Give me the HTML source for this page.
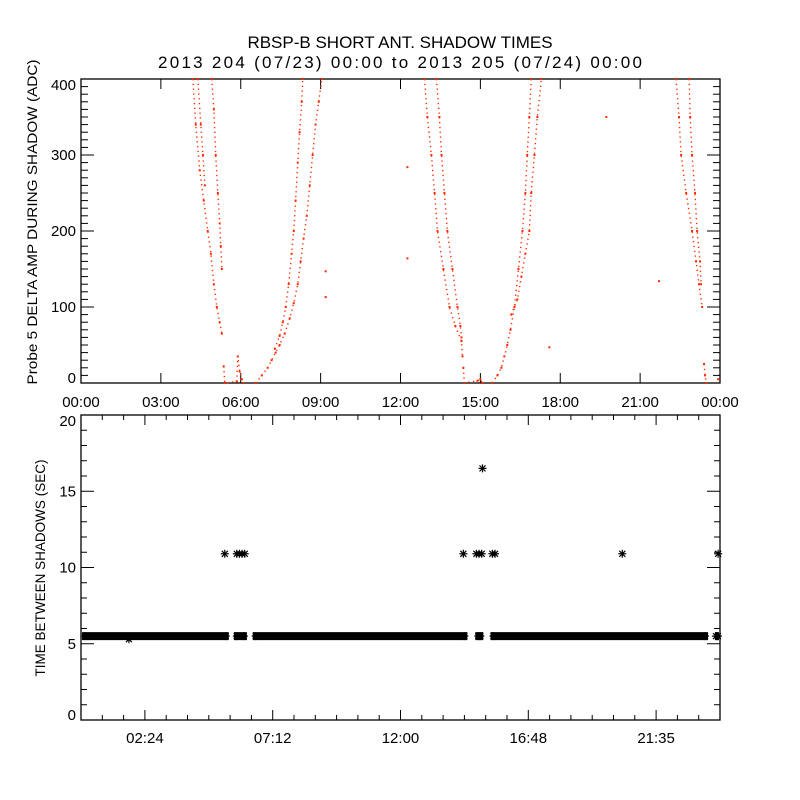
<!DOCTYPE html>
<html><head><meta charset="utf-8"><style>
html,body{margin:0;padding:0;background:#fff;width:800px;height:800px;overflow:hidden}
svg{display:block}
text{font-family:"Liberation Sans",sans-serif;fill:#000}
</style></head><body>
<svg id="chart" width="800" height="800" viewBox="0 0 800 800">
<text x="400" y="48" font-size="17" text-anchor="middle">RBSP-B SHORT ANT. SHADOW TIMES</text>
<text x="158" y="68" font-size="17" textLength="484" lengthAdjust="spacing">2013 204 (07/23) 00:00 to 2013 205 (07/24) 00:00</text>
<g id="topPanel"></g>
<g id="botPanel"></g>
</svg>
<script>
// ---- top panel data: [hour, ADC] ----
const day1Outer=[[4.20,400],[4.31,340],[4.46,280],[4.61,240],[4.76,200],[4.88,170],[4.99,130],[5.10,100],[5.21,80],[5.29,65]];
const day1Inner=[[4.91,400],[4.99,360],[5.06,300],[5.14,250],[5.21,210],[5.25,180],[5.29,150]];
const day1Col=[[4.39,400],[4.50,340],[4.58,300],[4.65,260]];
const day1Zero=[[5.36,22],[5.40,0],[5.85,2],[5.89,35],[5.96,15],[6.04,5],[6.10,0]];
const day1RiseLow=[[6.56,0],[6.79,10],[7.01,20],[7.16,30],[7.31,40],[7.46,50],[7.65,65],[7.84,85],[7.99,105],[8.14,130],[8.25,160],[8.36,190],[8.48,220],[8.59,260],[8.70,300],[8.81,340],[8.93,370],[9.04,400]];
const day1RiseHigh=[[7.28,45],[7.46,62],[7.58,80],[7.69,100],[7.80,130],[7.91,170],[7.99,200],[8.06,240],[8.14,290],[8.21,330],[8.29,370],[8.33,400]];
const day2Outer=[[12.90,400],[13.01,350],[13.16,300],[13.28,250],[13.39,200],[13.61,150],[13.84,100],[14.06,75],[14.29,55],[14.33,35]];
const day2Inner=[[13.35,400],[13.46,350],[13.54,300],[13.65,250],[13.76,200],[13.95,150],[14.14,100],[14.25,75],[14.29,60]];
const day2Zero=[[14.36,20],[14.40,0],[14.89,3],[15.00,5],[15.08,0]];
const day2RiseLow=[[15.45,0],[15.64,10],[15.79,20],[15.90,35],[16.01,50],[16.13,70],[16.28,100],[16.43,150],[16.58,200],[16.69,250],[16.76,300],[16.84,350],[16.91,400]];
const day2RiseHigh=[[16.16,90],[16.39,110],[16.54,140],[16.69,170],[16.84,200],[16.91,250],[17.03,300],[17.14,350],[17.29,400]];
const day3Outer=[[22.35,400],[22.46,350],[22.54,300],[22.73,250],[22.95,200],[23.10,160],[23.21,130],[23.33,100]];
const day3Inner=[[22.84,400],[22.88,350],[22.95,300],[23.06,250],[23.14,200],[23.25,160],[23.29,130]];
const day3Zero=[[23.40,25],[23.44,10],[23.48,0]];
const strays=[[9.19,147],[9.19,113],[12.26,284],[12.26,164],[17.59,47],[19.73,350],[21.71,134],[23.93,5]];
const topYTicks=[0,100,200,300,400];
const topXLabels=["00:00","03:00","06:00","09:00","12:00","15:00","18:00","21:00","00:00"];
// ---- bottom panel data ----
const bandSegments=[[0.04,5.55],[5.74,6.23],[6.45,14.51],[14.81,15.11],[15.38,23.55],[23.81,23.96]];
const bandValue=[5.5];
const outliers=[[1.8,5.3],[5.40,10.9],[5.85,10.9],[5.95,10.9],[6.05,10.9],[6.15,10.9],[14.36,10.9],[14.85,10.9],[14.95,10.9],[15.05,10.9],[15.08,16.5],[15.45,10.9],[15.55,10.9],[20.33,10.9],[23.93,10.9]];
const botYTicks=[0,5,10,15,20];
const botXLabels=["02:24","07:12","12:00","16:48","21:35"];

const NS="http://www.w3.org/2000/svg";
function mk(tag,attrs,parent){const e=document.createElementNS(NS,tag);for(const k in attrs)e.setAttribute(k,attrs[k]);parent.appendChild(e);return e;}
const X0=81,X1=720;
const xs=h=>X0+(X1-X0)*h/24;
const T0=79,T1=383;const yT=v=>T1-(T1-T0)*v/400;
const B0=415,B1=720;const yB=v=>B1-(B1-B0)*v/20;

const topG=document.getElementById('topPanel'),botG=document.getElementById('botPanel');
function frame(g,y0,y1,name){const r=mk('rect',{x:X0,y:y0,width:X1-X0,height:y1-y0,fill:'none',stroke:'#000','stroke-width':1.3},g);

}
frame(topG,T0,T1,'top-plot-frame');frame(botG,B0,B1,'bottom-plot-frame');

// top axes
for(let v=0;v<=400;v+=10){const y=yT(v);const L=(v%100===0)?13:7;
mk('line',{x1:X0,y1:y,x2:X0+L,y2:y,stroke:'#000'},topG);mk('line',{x1:X1,y1:y,x2:X1-L,y2:y,stroke:'#000'},topG);}
topYTicks.forEach(v=>{let y=yT(v)+5;y=Math.min(Math.max(y,T0+11),T1);const t=mk('text',{x:76,y:y,'font-size':15,'text-anchor':'end'},topG);t.textContent=v;

});
topXLabels.forEach((s,i)=>{const x=xs(i*3);mk('line',{x1:x,y1:T1,x2:x,y2:T1-10,stroke:'#000'},topG);mk('line',{x1:x,y1:T0,x2:x,y2:T0+10,stroke:'#000'},topG);
const t=mk('text',{x:x,y:407,'font-size':15,'text-anchor':'middle'},topG);t.textContent=s;

});
const ty=mk('text',{x:0,y:0,'font-size':14,'text-anchor':'middle',textLength:325,lengthAdjust:'spacingAndGlyphs',transform:'translate(37,222) rotate(-90)'},topG);ty.textContent='Probe 5 DELTA AMP DURING SHADOW (ADC)';



// red scatter
const branches=[day1Outer,day1Inner,day1Col,day1Zero,day1RiseLow,day1RiseHigh,day2Outer,day2Inner,day2Zero,day2RiseLow,day2RiseHigh,day3Outer,day3Inner,day3Zero];
branches.forEach(b=>{
  const pl=mk('polyline',{points:b.map(p=>xs(p[0])+','+yT(p[1])).join(' '),fill:'none',stroke:'#ff2a00','stroke-width':1.4,'stroke-dasharray':'1.3 3.5'},topG);
  
  
  b.forEach(p=>{const r=mk('rect',{x:xs(p[0])-1,y:yT(p[1])-1,width:2,height:2,fill:'#ff2a00'},topG);
  
  });
});
strays.forEach(p=>{const r=mk('rect',{x:xs(p[0])-1,y:yT(p[1])-1,width:2,height:2,fill:'#ff2a00'},topG);

});

// bottom axes
for(let v=0;v<=20;v+=1){const y=yB(v);const L=(v%5===0)?13:6;
mk('line',{x1:X0,y1:y,x2:X0+L,y2:y,stroke:'#000'},botG);mk('line',{x1:X1,y1:y,x2:X1-L,y2:y,stroke:'#000'},botG);}
botYTicks.forEach(v=>{let y=yB(v)+5;y=Math.min(Math.max(y,B0+11),B1);const t=mk('text',{x:76,y:y,'font-size':15,'text-anchor':'end'},botG);t.textContent=v;

});
for(let i=1;i<30;i++){const x=xs(i*0.8);const L=(i%6===3)?10:5;
mk('line',{x1:x,y1:B1,x2:x,y2:B1-L,stroke:'#000'},botG);mk('line',{x1:x,y1:B0,x2:x,y2:B0+L,stroke:'#000'},botG);}
botXLabels.forEach((s,i)=>{const x=xs(2.4+i*4.8);const t=mk('text',{x:x,y:743,'font-size':15,'text-anchor':'middle'},botG);t.textContent=s;

});
const by=mk('text',{x:0,y:0,'font-size':14,'text-anchor':'middle',textLength:217,lengthAdjust:'spacingAndGlyphs',transform:'translate(45,568) rotate(-90)'},botG);by.textContent='TIME BETWEEN SHADOWS (SEC)';



function star(x,y,g){const s=mk('g',{stroke:'#000','stroke-width':1.2},g);


mk('line',{x1:x-4,y1:y,x2:x+4,y2:y},s);mk('line',{x1:x,y1:y-4,x2:x,y2:y+4},s);
mk('line',{x1:x-3,y1:y-3,x2:x+3,y2:y+3},s);mk('line',{x1:x-3,y1:y+3,x2:x+3,y2:y-3},s);}
bandSegments.forEach(sg=>{const x1=xs(sg[0]),x2=xs(sg[1]);const y=yB(bandValue[0]);
const r=mk('rect',{x:x1,y:y-4,width:Math.max(x2-x1,1),height:8,fill:'#000'},botG);


star(x1+3,y,botG);star(x2-3,y,botG);});
outliers.forEach(p=>star(xs(p[0]),yB(p[1]),botG));
</script>
</body></html>
